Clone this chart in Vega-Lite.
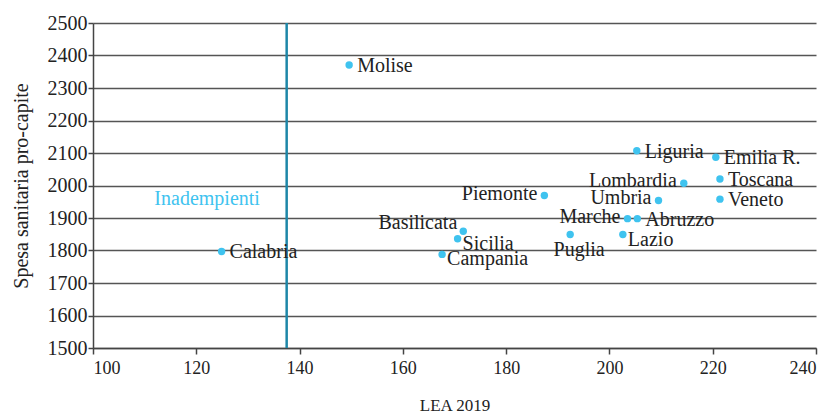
{
  "$schema": "https://vega.github.io/schema/vega-lite/v6.json",
  "width": 723,
  "height": 325,
  "autosize": "none",
  "padding": {"left": 93, "top": 23, "right": 17, "bottom": 67},
  "background": "white",
  "config": {
    "view": {"stroke": null},
    "font": "Liberation Serif",
    "text": {"font": "Liberation Serif"},
    "axis": {
      "labelFont": "Liberation Serif",
      "titleFont": "Liberation Serif",
      "labelColor": "#222",
      "titleColor": "#222",
      "titleFontWeight": "normal",
      "domainColor": "#444",
      "tickColor": "#444",
      "domainWidth": 1.5,
      "tickWidth": 1.5
    },
    "axisX": {"grid": false, "labelFont": "Liberation Serif", "titleFont": "Liberation Serif", "labelFontSize": 18, "titleFontSize": 17, "tickSize": 6, "labelPadding": 5, "titlePadding": 20, "tickCount": 7, "format": "d"},
    "axisY": {"grid": true, "labelFont": "Liberation Serif", "titleFont": "Liberation Serif", "gridColor": "#555", "gridWidth": 1.3, "labelFontSize": 20, "titleFontSize": 20, "tickSize": 5, "labelPadding": 1, "titlePadding": 16, "tickCount": 10, "format": "d"}
  },
  "datasets": {
    "regioni": [
      {"regione": "Molise", "lea": 149.6, "spesa": 2371},
      {"regione": "Calabria", "lea": 124.9, "spesa": 1797},
      {"regione": "Liguria", "lea": 205.3, "spesa": 2107},
      {"regione": "Emilia R.", "lea": 220.6, "spesa": 2087},
      {"regione": "Lombardia", "lea": 214.4, "spesa": 2007},
      {"regione": "Toscana", "lea": 221.4, "spesa": 2020},
      {"regione": "Veneto", "lea": 221.4, "spesa": 1958},
      {"regione": "Umbria", "lea": 209.5, "spesa": 1954},
      {"regione": "Piemonte", "lea": 187.4, "spesa": 1969},
      {"regione": "Marche", "lea": 203.5, "spesa": 1898},
      {"regione": "Abruzzo", "lea": 205.4, "spesa": 1898},
      {"regione": "Lazio", "lea": 202.6, "spesa": 1849},
      {"regione": "Puglia", "lea": 192.4, "spesa": 1849},
      {"regione": "Basilicata", "lea": 171.7, "spesa": 1859},
      {"regione": "Sicilia", "lea": 170.6, "spesa": 1836},
      {"regione": "Campania", "lea": 167.6, "spesa": 1788}
    ]
  },
  "encoding": {
    "x": {"field": "lea", "type": "quantitative", "title": "LEA 2019", "scale": {"domain": [100, 240], "nice": false, "zero": false}}
  },
  "layer": [
    {
      "data": {"values": [{"lea": 137.5}]},
      "mark": {"type": "rule", "color": "#1d87a8", "strokeWidth": 2.5},
      "encoding": {}
    },
    {
      "data": {"name": "regioni"},
      "mark": {"type": "point", "filled": true, "shape": "circle", "size": 55, "color": "#3fc3ef", "opacity": 1},
      "encoding": {
        "y": {"field": "spesa", "type": "quantitative", "title": "Spesa sanitaria pro-capite", "scale": {"domain": [1500, 2500], "nice": false, "zero": false}}
      }
    },
    {
      "data": {"name": "regioni"},
      "transform": [{"filter": {"field": "regione", "oneOf": ["Molise", "Calabria", "Liguria", "Emilia R.", "Toscana", "Veneto", "Abruzzo"]}}],
      "mark": {"type": "text", "align": "left", "baseline": "middle", "dx": 8, "dy": 1, "fontSize": 20, "color": "#222"},
      "encoding": {
        "y": {"field": "spesa", "type": "quantitative", "title": "Spesa sanitaria pro-capite"},
        "text": {"field": "regione"}
      }
    },
    {
      "data": {"name": "regioni"},
      "transform": [{"filter": {"field": "regione", "oneOf": ["Lazio", "Sicilia", "Campania"]}}],
      "mark": {"type": "text", "align": "left", "baseline": "middle", "dx": 5, "dy": 5, "fontSize": 20, "color": "#222"},
      "encoding": {
        "y": {"field": "spesa", "type": "quantitative", "title": "Spesa sanitaria pro-capite"},
        "text": {"field": "regione"}
      }
    },
    {
      "data": {"name": "regioni"},
      "transform": [{"filter": {"field": "regione", "oneOf": ["Lombardia", "Umbria", "Piemonte", "Marche"]}}],
      "mark": {"type": "text", "align": "right", "baseline": "middle", "dx": -7, "dy": -2, "fontSize": 20, "color": "#222"},
      "encoding": {
        "y": {"field": "spesa", "type": "quantitative", "title": "Spesa sanitaria pro-capite"},
        "text": {"field": "regione"}
      }
    },
    {
      "data": {"name": "regioni"},
      "transform": [{"filter": {"field": "regione", "equal": "Basilicata"}}],
      "mark": {"type": "text", "align": "right", "baseline": "middle", "dx": -6, "dy": -8, "fontSize": 20, "color": "#222"},
      "encoding": {
        "y": {"field": "spesa", "type": "quantitative", "title": "Spesa sanitaria pro-capite"},
        "text": {"field": "regione"}
      }
    },
    {
      "data": {"name": "regioni"},
      "transform": [{"filter": {"field": "regione", "equal": "Puglia"}}],
      "mark": {"type": "text", "align": "center", "baseline": "middle", "dx": 9, "dy": 15, "fontSize": 20, "color": "#222"},
      "encoding": {
        "y": {"field": "spesa", "type": "quantitative", "title": "Spesa sanitaria pro-capite"},
        "text": {"field": "regione"}
      }
    },
    {
      "data": {"values": [{"lea": 122.1, "spesa": 1958, "etichetta": "Inadempienti"}]},
      "mark": {"type": "text", "align": "center", "baseline": "middle", "fontSize": 20, "color": "#3fc3ef"},
      "encoding": {
        "y": {"field": "spesa", "type": "quantitative", "title": "Spesa sanitaria pro-capite"},
        "text": {"field": "etichetta"}
      }
    }
  ]
}
